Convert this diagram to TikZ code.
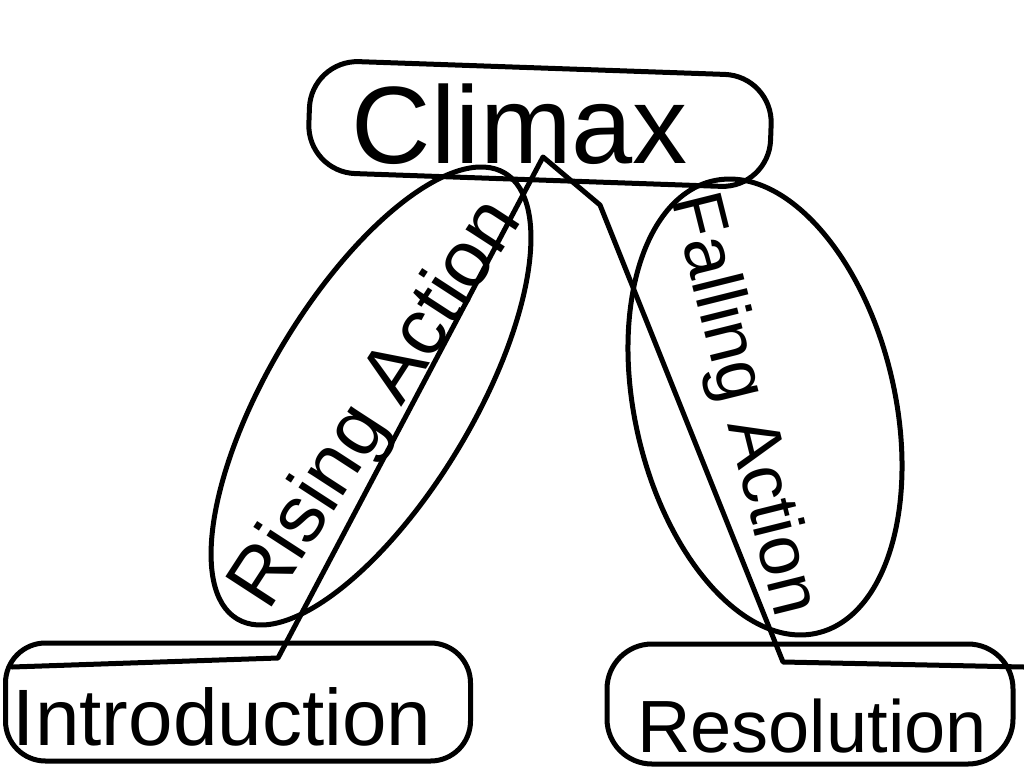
\documentclass[tikz,border=0pt]{standalone}
\usepackage{fontspec}
\setmainfont{Liberation Sans}
\usetikzlibrary{shapes.geometric}
\begin{document}
\begin{tikzpicture}[x=1pt,y=-1pt,
  ink/.style={line width=5pt, line cap=round, line join=round, black},
  box/.style={ink, draw, rounded corners=48pt},
  oval/.style={ink, draw, ellipse, inner sep=0pt},
  word/.style={inner sep=0pt, text=black}]
\useasboundingbox (0,0) rectangle (1024,768);
\fill[white] (0,0) rectangle (1024,768);

% boxes
\node[box, rotate=-2, minimum width=462pt, minimum height=112pt] (climaxbox) at (540,124) {};
\node[box, rounded corners=40pt, minimum width=465pt, minimum height=118pt] (introbox) at (238,702) {};
\node[box, rounded corners=45pt, minimum width=406pt, minimum height=120pt] (resbox) at (810,704) {};

% ovals
\node[oval, rotate=59, minimum width=520pt, minimum height=204pt] (risebox) at (371,396) {};
\node[oval, rotate=-77, minimum width=464pt, minimum height=260pt] (fallbox) at (765,407) {};

% texts
\node[word, anchor=base, font=\fontsize{110}{110}\selectfont] (climax) at (520,163) {Climax};
\node[word, anchor=base, font=\fontsize{80}{80}\selectfont] (intro) at (222,745) {Introduction};
\node[word, anchor=base, font=\fontsize{74}{74}\selectfont] (res) at (812,752) {Resolution};
\node[word, rotate=57, font=\fontsize{80}{80}\selectfont] (rise) at (378,405) {Rising Action};
\node[word, rotate=-76, font=\fontsize{72}{72}\selectfont] (fall) at (742,405) {Falling Action};

% plot line
\coordinate (lend) at (12,667);
\coordinate (introtop) at (278,658);
\coordinate (peak) at (543,157);
\coordinate (kink) at (600,205);
\coordinate (restop) at (783,662);
\coordinate (rend) at (1024,667);
\draw[ink] (lend) -- (introtop) -- (peak) -- (kink) -- (restop) -- (rend);
\end{tikzpicture}
\end{document}
